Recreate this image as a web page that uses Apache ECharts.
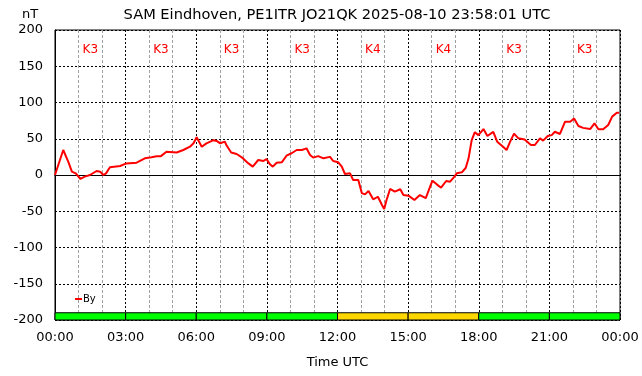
<!DOCTYPE html>
<html>
<head>
<meta charset="utf-8">
<script src="https://cdn.jsdelivr.net/npm/echarts@6/dist/echarts.min.js"></script>
<style>
  html, body { margin: 0; padding: 0; background: #fff; }
  #chart { width: 642px; height: 376px; }
</style>
</head>
<body>
<div id="chart"></div>
<script>
// minutes after 00:00 UTC
var minutes = [0, 21, 34, 43, 53, 65, 76, 89, 106, 115, 123, 130, 140, 166, 182, 208, 229, 246, 259, 270,
  284, 310, 327, 344, 353, 361, 374, 386, 404, 412, 421, 433, 437, 449, 463, 476, 493, 504, 518, 531,
  539, 548, 555, 565, 578, 590, 603, 616, 629, 641, 650, 658, 671, 684, 701, 709, 722, 731, 739, 752,
  760, 773, 782, 790, 799, 811, 823, 833, 839, 845, 854, 866, 880, 888, 901, 916, 930, 945, 956, 962,
  973, 984, 997, 1007, 1018, 1024, 1037, 1047, 1054, 1062, 1070, 1079, 1092, 1102, 1117, 1127, 1142, 1151, 1160, 1170,
  1181, 1197, 1213, 1223, 1236, 1244, 1256, 1266, 1274, 1287, 1300, 1313, 1323, 1334, 1346, 1364, 1375, 1385, 1397, 1410,
  1420, 1432, 1438];
// By in nT
var byValues = [0, 34.5, 18, 4.6, 2.3, -5.5, -2.3, 0, 5.5, 4.6, 0, 2.3, 10.6, 12.4, 16, 17, 23, 24.4, 26, 26,
  32, 31, 34.5, 39, 43.7, 52, 39, 43.7, 48, 47, 43.7, 46, 41, 31, 29, 24.4, 16, 11.5, 20.7, 19.3,
  22, 14.7, 11.5, 17, 17.5, 26.6, 30, 34.5, 34.5, 36.8, 27.6, 24, 26, 23, 25, 19.3, 17.5, 11.5, 1.4, 2.3,
  -7, -7, -25, -26.7, -22, -33.6, -30, -41, -47, -34.5, -19.3, -23, -19.7, -27.6, -28.5, -34.5, -27.6, -32, -16, -7.8,
  -12.9, -17.5, -8.3, -9.2, -2.3, 2.3, 3.7, 10, 23, 48, 59, 55, 63.4, 53.8, 59.5, 46, 39, 34.5, 46, 57,
  50.6, 49, 41.4, 41.4, 50.6, 47.4, 53.8, 55, 59.7, 56.6, 73.5, 73.5, 78, 67.6, 65, 63.4, 71.3, 63, 63, 69,
  80.5, 86, 86];
// K index per 3-hour slot
var kIndex = [3, 3, 3, 3, 4, 4, 3, 3];
var yTicks = { min: -200, max: 200, step: 50 };

var chart = echarts.init(document.getElementById('chart'));

var lineData = minutes.map(function (m, i) { return [m, byValues[i]]; });
var kData = kIndex.map(function (k, i) { return [i * 180, (i + 1) * 180, k]; });

function pad(n) { return (n < 10 ? '0' : '') + n; }

var option = {
  animation: false,
  backgroundColor: '#fff',
  textStyle: { fontFamily: 'DejaVu Sans' },
  title: {
    text: 'SAM Eindhoven, PE1ITR JO21QK 2025-08-10 23:58:01 UTC',
    left: 332,
    top: 3,
    textAlign: 'center',
    textStyle: { fontFamily: 'DejaVu Sans', fontSize: 14.6, fontWeight: 'normal', color: '#000' }
  },
  graphic: [{
    type: 'text', left: 22, top: 8,
    style: { text: 'nT', fontFamily: 'DejaVu Sans', fontSize: 13, fill: '#000' }
  }],
  legend: {
    data: ['By'],
    left: 70,
    top: 289,
    icon: 'rect',
    itemWidth: 7,
    itemHeight: 2,
    textStyle: { fontFamily: 'DejaVu Sans', fontSize: 10, color: '#000', padding: [0, 0, 0, -4] }
  },
  grid: {
    left: 55, right: 22, top: 30, bottom: 56,
    outerBoundsMode: 'none',
    containLabel: false,
    show: true, borderColor: '#000', borderWidth: 1, backgroundColor: 'transparent'
  },
  xAxis: {
    type: 'value',
    min: 0, max: 1440, interval: 180,
    name: 'Time UTC',
    nameLocation: 'middle',
    nameGap: 36,
    nameTextStyle: { fontFamily: 'DejaVu Sans', fontSize: 13, color: '#000' },
    axisLine: { show: true, lineStyle: { color: '#000', width: 1 } },
    axisTick: { show: false },
    axisLabel: {
      margin: 11, fontSize: 13, color: '#000', fontFamily: 'DejaVu Sans',
      formatter: function (v) { return pad(Math.floor(v / 60) % 24) + ':00'; }
    },
    splitLine: { show: true, lineStyle: { color: '#000', width: 1, type: [2, 2] } },
    minorTick: { show: false, splitNumber: 3 },
    minorSplitLine: { show: true, lineStyle: { color: '#a0a0a0', width: 1, type: [3, 2] } }
  },
  yAxis: {
    type: 'value',
    min: yTicks.min, max: yTicks.max, interval: yTicks.step,
    axisLine: { show: true, lineStyle: { color: '#000', width: 1 } },
    axisTick: { show: false },
    axisLabel: { margin: 12, fontSize: 13, color: '#000', fontFamily: 'DejaVu Sans' },
    splitLine: { show: true, lineStyle: { color: '#000', width: 1, type: [2, 2] } }
  },
  series: [
    {
      name: 'K',
      type: 'custom',
      silent: true,
      data: kData,
      renderItem: function (params, api) {
        var p0 = api.coord([api.value(0), -200]);
        var p1 = api.coord([api.value(1), -190]);
        var k = api.value(2);
        var color = k >= 5 ? '#ff0000' : (k >= 4 ? '#ffd700' : '#00ff00');
        var mid = api.coord([(api.value(0) + api.value(1)) / 2, 173]);
        return {
          type: 'group',
          children: [{
            type: 'rect',
            shape: { x: p0[0], y: p1[1], width: p1[0] - p0[0], height: p0[1] - p1[1] },
            style: { fill: color, stroke: '#000', lineWidth: 1 }
          }, {
            type: 'text',
            x: mid[0], y: mid[1],
            style: {
              text: 'K' + k, fill: '#ff0000', fontSize: 12, fontFamily: 'DejaVu Sans',
              align: 'center', verticalAlign: 'middle'
            }
          }]
        };
      }
    },
    {
      name: 'By',
      type: 'line',
      data: lineData,
      showSymbol: false,
      symbol: 'none',
      color: '#ff0000',
      lineStyle: { color: '#ff0000', width: 2 }
    }
  ]
};

chart.setOption(option);
</script>
</body>
</html>
